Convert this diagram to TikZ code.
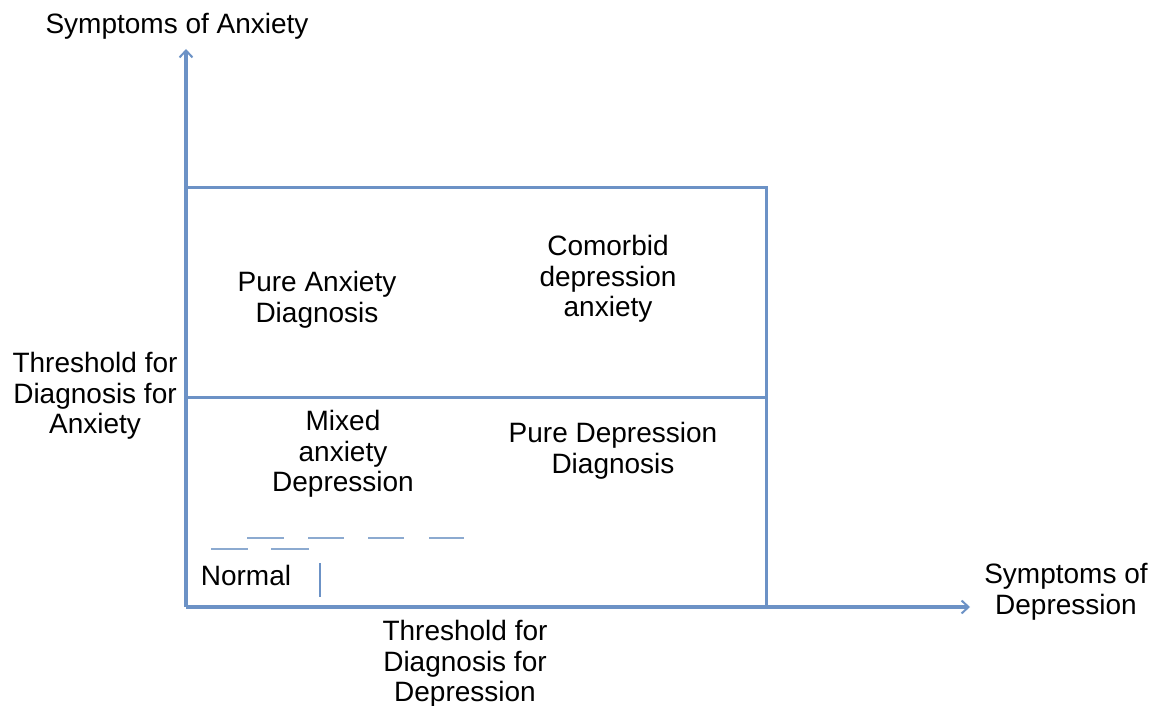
\documentclass[tikz,border=0pt]{standalone}
\usepackage{fontspec}
\setmainfont{Liberation Sans}
\usetikzlibrary{arrows.meta}
\definecolor{axisblue}{RGB}{108,146,198}
\definecolor{dashblue}{RGB}{140,170,208}
\begin{document}
\begin{tikzpicture}[x=1pt,y=-1pt,
  axis/.style={draw=axisblue,line width=3.2pt,-{Straight Barb[length=7pt,width=13pt,line width=2pt]}},
  frame/.style={draw=axisblue,line width=3pt},
  thresh/.style={draw=dashblue,line width=2.6pt},
  lbl/.style={align=center,font=\fontsize{28}{30.5}\selectfont,inner sep=0pt,text=black}]
  \useasboundingbox[fill=white] (0,0) rectangle (1159,706);

  % axes
  \coordinate (O) at (186,607);
  \coordinate (ytip) at (186,49);
  \coordinate (xtip) at (970,607);
  \draw[axis] (O) -- (ytip);
  \draw[axis] (O) -- (xtip);

  % diagnosis regions
  \coordinate (tl) at (186,187);
  \coordinate (br) at (766,607);
  \coordinate (ml) at (186,397);
  \coordinate (mr) at (766,397);
  \draw[frame] (tl) -| (br);
  \draw[frame] (ml) -- (mr);

  % sub-threshold boundary around the normal region
  \foreach \a/\b in {247/284,308/344,368/404,429/464}
    \draw[thresh] (\a,538) -- (\b,538);
  \foreach \a/\b in {211/248,271/309}
    \draw[thresh] (\a,549) -- (\b,549);
  \coordinate (nv1) at (320,563);
  \coordinate (nv2) at (320,597);
  \draw[draw=axisblue,line width=2.6pt] (nv1) -- (nv2);

  % labels
  \node[lbl] (yl) at (177,26) {Symptoms of Anxiety};
  \node[lbl] (xl) at (1066,592) {Symptoms of\\Depression};
  \node[lbl] (ta) at (95,396) {Threshold for\\Diagnosis for\\Anxiety};
  \node[lbl] (td) at (465,664) {Threshold for\\Diagnosis for\\Depression};
  \node[lbl] (pa) at (317,300) {Pure Anxiety\\Diagnosis};
  \node[lbl] (cm) at (608,279) {Comorbid\\depression\\anxiety};
  \node[lbl] (mx) at (343,454) {Mixed\\anxiety\\Depression};
  \node[lbl] (pd) at (613,451) {Pure Depression\\Diagnosis};
  \node[lbl] (nm) at (246,575) {Normal};
\end{tikzpicture}
\end{document}
